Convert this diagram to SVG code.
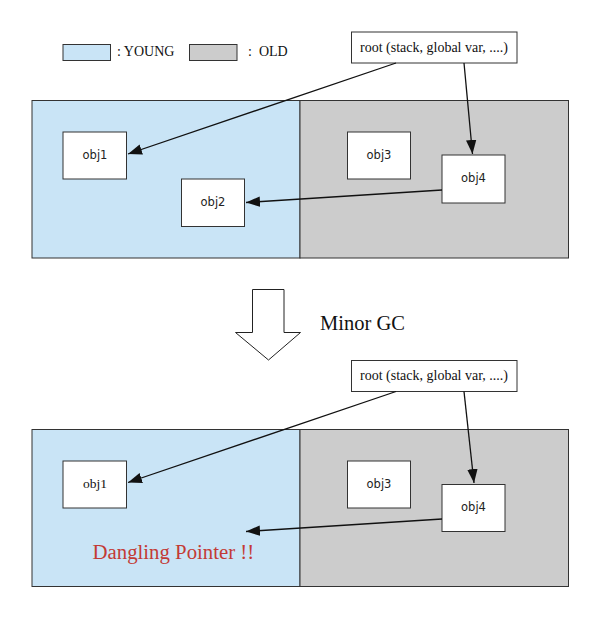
<svg xmlns="http://www.w3.org/2000/svg" width="600" height="619" viewBox="0 0 600 619">
<style>
.young{fill:#c9e4f6;stroke:#333;stroke-width:1}
.old{fill:#cccccc;stroke:#333;stroke-width:1}
.box{fill:#fff;stroke:#333;stroke-width:1}
.serif{font-family:"Liberation Serif","Times New Roman",serif;fill:#111}
.sans{font-family:"DejaVu Sans",sans-serif;font-size:11.5px;fill:#222}
.conn{stroke:#111;stroke-width:1.3;fill:none;marker-end:url(#ah)}
</style>
<defs>
<marker id="ah" viewBox="0 0 10 10" refX="10" refY="5" markerWidth="14" markerHeight="14" markerUnits="userSpaceOnUse" orient="auto">
<path d="M0,1.3 L10,5 L0,8.7 z" fill="#111"/>
</marker>
</defs>
<rect width="600" height="619" fill="#fff"/>
<g id="legend">
<rect class="young" x="63" y="44.5" width="47.5" height="16"/>
<text class="serif" x="117" y="56" font-size="14">: YOUNG</text>
<rect class="old" x="189.5" y="44.5" width="47.5" height="16"/>
<text class="serif" x="248" y="56" font-size="14" style="white-space:pre" xml:space="preserve">:  OLD</text>
</g>
<g id="heap-before">
<rect class="young" x="32" y="100.5" width="268" height="157.5"/>
<rect class="old" x="300" y="100.5" width="268.5" height="157.5"/>
</g>
<g id="root1">
<rect class="box" x="351.5" y="32" width="165.5" height="31"/>
<text class="serif" x="434" y="51.5" font-size="14" text-anchor="middle">root (stack, global var, ....)</text>
</g>
<g id="obj1-before">
<rect class="box" x="63" y="132" width="63.5" height="47"/>
<text class="sans" x="95" y="159" text-anchor="middle">obj1</text>
</g>
<g id="obj2-before">
<rect class="box" x="181.5" y="179" width="63" height="47.5"/>
<text class="sans" x="213" y="206" text-anchor="middle">obj2</text>
</g>
<g id="obj3-before">
<rect class="box" x="347.5" y="132" width="63" height="47"/>
<text class="sans" x="379" y="159" text-anchor="middle">obj3</text>
</g>
<g id="obj4-before">
<rect class="box" x="442" y="155" width="63" height="48"/>
<text class="sans" x="473.5" y="182" text-anchor="middle">obj4</text>
</g>
<g id="minor-gc">
<path d="M252.5,289.5 L284,289.5 L284,332.5 L300.5,332.5 L268.5,360 L235.5,332.5 L252.5,332.5 Z" fill="#fff" stroke="#222" stroke-width="1"/>
<text class="serif" x="320" y="330" font-size="20.5">Minor GC</text>
</g>
<g id="heap-after">
<rect class="young" x="32" y="429.5" width="268" height="157"/>
<rect class="old" x="300" y="429.5" width="268.5" height="157"/>
</g>
<g id="root2">
<rect class="box" x="351.5" y="360.5" width="165.5" height="31"/>
<text class="serif" x="434" y="380" font-size="14" text-anchor="middle">root (stack, global var, ....)</text>
</g>
<g id="obj1-after">
<rect class="box" x="63" y="461" width="63.5" height="47"/>
<text class="serif" x="95" y="488" font-size="13.5" text-anchor="middle">obj1</text>
</g>
<g id="obj3-after">
<rect class="box" x="347.5" y="461" width="63" height="47"/>
<text class="sans" x="379" y="488" text-anchor="middle">obj3</text>
</g>
<g id="obj4-after">
<rect class="box" x="442" y="484.5" width="63" height="47"/>
<text class="sans" x="473.5" y="511" text-anchor="middle">obj4</text>
</g>
<g id="dangling">
<text x="92.5" y="559" font-family="'Liberation Serif','Times New Roman',serif" font-size="20.8" fill="#c33a35">Dangling Pointer !!</text>
</g>
<g id="connectors">
<line class="conn" x1="396" y1="63" x2="128" y2="154"/>
<line class="conn" x1="464" y1="63" x2="472.5" y2="154"/>
<line class="conn" x1="442" y1="190" x2="246" y2="202.5"/>
<line class="conn" x1="396" y1="391.5" x2="128" y2="482.5"/>
<line class="conn" x1="464" y1="391.5" x2="474" y2="483"/>
<line class="conn" x1="442" y1="519" x2="246" y2="531.5"/>
</g>
</svg>
